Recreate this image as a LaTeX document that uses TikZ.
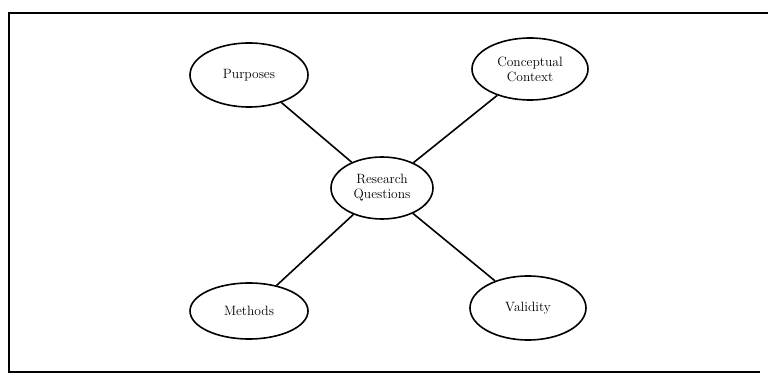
\documentclass[tikz,border=0pt]{standalone}
\usepackage{tikz}
\usetikzlibrary{shapes.geometric}

\tikzset{
  topic/.style={draw, ellipse, line width=1.6pt, inner sep=0pt, align=center,
    minimum width=116pt, minimum height=62pt, font=\fontsize{13.5}{15}\selectfont},
  link/.style={line width=1.6pt}
}

\begin{document}
\begin{tikzpicture}[x=1pt,y=-1pt]
  \useasboundingbox (0,0) rectangle (768,379);
  % Frame
  \draw[line width=1.5pt] (768,13) -- (9,13) -- (9,372) -- (760,372);
  % Hub
  \node[topic, minimum width=102pt] (rq) at (382,188) {Research\\Questions};
  % Outer ellipses
  \node[topic, minimum width=118pt, minimum height=64pt] (purp) at (249,75) {Purposes};
  \node[topic] (ctx) at (530,69) {Conceptual\\Context};
  \node[topic, minimum width=118pt, minimum height=56pt] (meth) at (249,311) {Methods};
  \node[topic, minimum height=64pt] (valid) at (528,308) {Validity};
  % Links
  \draw[link] (purp) -- (rq);
  \draw[link] (ctx) -- (rq);
  \draw[link] (meth) -- (rq);
  \draw[link] (valid) -- (rq);
\end{tikzpicture}
\end{document}
